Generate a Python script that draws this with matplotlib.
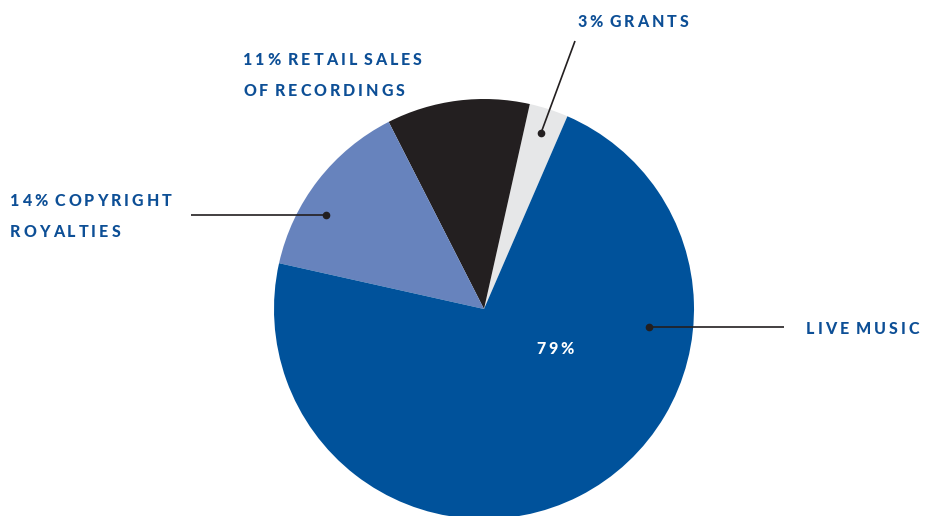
import matplotlib
matplotlib.use("Agg")
import matplotlib.pyplot as plt

# wedge sizes as drawn (the printed labels do not sum to 100)
categories = ["Grants", "Retail sales of recordings", "Copyright royalties", "Live music"]
sizes = [3, 11, 14, 72]
colors = ["#e6e7e8", "#231f20", "#6783bd", "#00529b"]

label_lines = [
    ["3% GRANTS"],
    ["11% RETAIL SALES", "OF RECORDINGS"],
    ["14% COPYRIGHT", "ROYALTIES"],
    ["LIVE MUSIC"],
]
label_pos = [(577, 27), (243, 65), (10, 206), (806, 334)]
inner_label = "79%"

TEXT_BLUE = "#0d4f96"
LINE_COLOR = "#231f20"
W, H = 926, 516

fig = plt.figure(figsize=(W / 100, H / 100), dpi=100)
ax = fig.add_axes([0, 0, 1, 1])
renderer = fig.canvas.get_renderer()


def spaced_text(x, y, s, size=11.5, color=TEXT_BLUE, tracking=3.0, line_gap=31):
    # draw a (multi-line) label letter by letter to get the wide tracking
    lines = s if isinstance(s, list) else [s]
    for k, line in enumerate(lines):
        cx = x
        for ch in line:
            if ch == " ":
                cx += size * 0.32
                continue
            t = ax.text(cx, y + k * line_gap, ch, fontsize=size, color=color,
                        family="Lato", fontweight="black", ha="left", va="baseline")
            bb = t.get_window_extent(renderer)
            cx += bb.width + tracking


# y axis is flipped, so clockwise in data space is counter-clockwise on screen
ax.pie(sizes, colors=colors, startangle=-66.6, counterclock=False,
       center=(484, 309), radius=210, frame=True,
       wedgeprops=dict(linewidth=0))
ax.set_xlim(0, W)
ax.set_ylim(H, 0)  # pixel coordinates, y down
ax.set_aspect("equal")
ax.axis("off")

# leader lines with dots
leaders = [((541, 133), (575, 41)), ((326, 215), (191, 215)), ((649, 327), (784, 327))]
for (x0, y0), (x1, y1) in leaders:
    ax.plot([x0, x1], [y0, y1], color=LINE_COLOR, lw=1.2, solid_capstyle="butt")
    ax.plot(x0, y0, "o", color=LINE_COLOR, ms=4.5)

for lines, (x, y) in zip(label_lines, label_pos):
    spaced_text(x, y, lines)

spaced_text(536, 354, inner_label, color="white")

fig.savefig("out.png", dpi=100)
plt.close(fig)
